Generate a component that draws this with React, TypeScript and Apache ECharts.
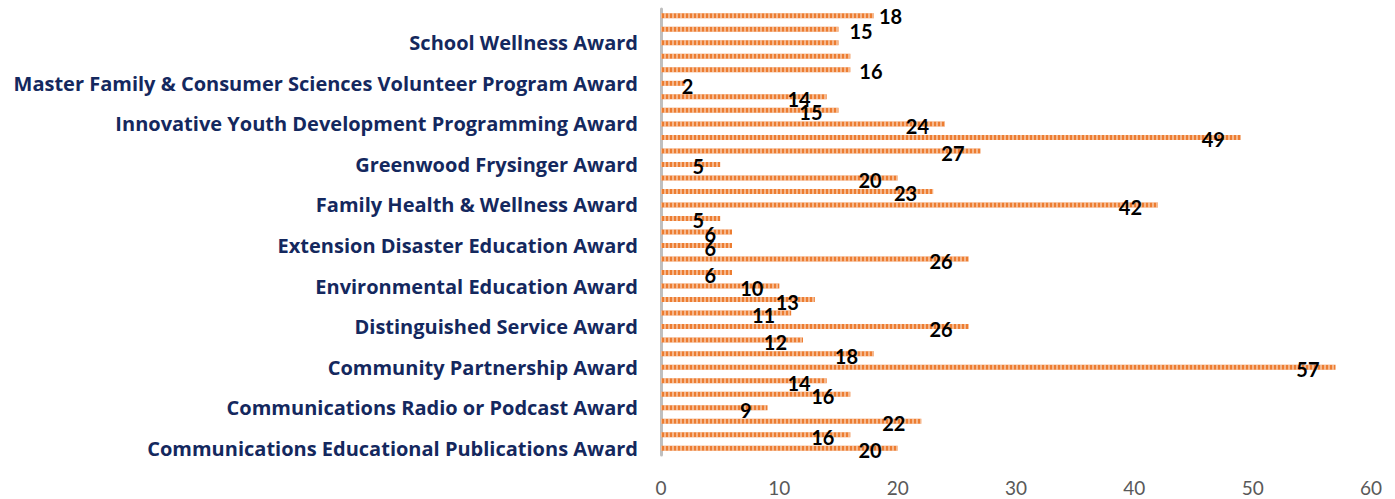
import React, { useEffect, useRef } from "react";
import * as echarts from "echarts";

// Categories from bottom to top (only every third is labelled on the axis)
const categories: string[] = [
  "Communications Educational Publications Award",
  "Communications Educational Technology Award",
  "Communications Newsletter Award",
  "Communications Radio or Podcast Award",
  "Communications Video Award",
  "Communications Website Award",
  "Community Partnership Award",
  "Continued Excellence Award",
  "Dean Don Felker Financial Management Award",
  "Distinguished Service Award",
  "Early Childhood Childcare Training Award",
  "Educational Curriculum Package Award",
  "Environmental Education Award",
  "Excellence in Teaching Award",
  "Extension Agent Award",
  "Extension Disaster Education Award",
  "Extension Leadership Award",
  "Family Economics Award",
  "Family Health & Wellness Award",
  "Florence Hall Award",
  "Food Safety Award",
  "Greenwood Frysinger Award",
  "Healthy Homes Award",
  "Human Development & Family Relationships Award",
  "Innovative Youth Development Programming Award",
  "Leadership Award",
  "Mary Wells Memorial Diversity Award",
  "Master Family & Consumer Sciences Volunteer Program Award",
  "New Professional Award",
  "Program Excellence through Research Award",
  "School Wellness Award",
  "Sustainability Award",
  "Teaching Excellence Award",
];

const values: number[] = [
  20, 16, 22, 9, 16, 14, 57, 18, 12, 26, 11, 13, 10, 6, 26, 6, 6, 5, 42, 23, 20,
  5, 27, 49, 24, 15, 14, 2, 16, 16, 15, 15, 18,
];

// indices of bars whose value label is not shown
const hiddenLabels: number[] = [29, 30];

const xTicks = { min: 0, max: 60, interval: 10 };

// label placement overrides (style only)
const labelOverrides: Record<number, any> = {
  32: { position: "right", distance: 5, offset: [0, 0] },
  31: { position: "right", distance: 11, offset: [0, 2] },
  28: { position: "right", distance: 9, offset: [0, 1] },
  27: { position: "right", distance: -3, offset: [0, 3] },
};

export default function App() {
  const ref = useRef<HTMLDivElement>(null);
  useEffect(() => {
    if (!ref.current) return;
    const chart = echarts.init(ref.current, null, { renderer: "svg" });
    const data = values.map((v, i) => {
      const item: any = { value: v };
      if (hiddenLabels.includes(i)) item.label = { show: false };
      else if (labelOverrides[i]) item.label = { ...labelOverrides[i] };
      return item;
    });
    chart.setOption({
      animation: false,
      grid: { left: 661, right: 24, top: 9, bottom: 44, containLabel: false },
      xAxis: {
        type: "value",
        min: xTicks.min,
        max: xTicks.max,
        interval: xTicks.interval,
        axisLine: { show: false },
        axisTick: { show: false },
        splitLine: { show: false },
        axisLabel: {
          color: "#595959",
          fontSize: 19,
          fontFamily: "Lato",
          margin: 23,
        },
      },
      yAxis: {
        type: "category",
        data: categories,
        axisTick: { show: false },
        axisLine: { show: true, lineStyle: { color: "#BFBFBF", width: 3 } },
        axisLabel: {
          interval: 2,
          color: "#14285E",
          fontWeight: "bold",
          fontSize: 20,
          fontFamily: "Open Sans",
          margin: 23,
        },
      },
      series: [
        {
          type: "bar",
          data,
          barWidth: 5,
          itemStyle: {
            color: "#ED7D31",
            decal: {
              symbol: "rect",
              symbolSize: 1,
              color: "rgba(255,255,255,0.45)",
              dashArrayX: [1.5, 1.5],
              dashArrayY: [6, 0],
              rotation: 0,
            },
          },
          label: {
            show: true,
            position: "insideRight",
            distance: 16,
            offset: [0, 2],
            color: "#000000",
            fontWeight: "bold",
            fontSize: 20,
            fontFamily: "Lato",
          },
        },
      ],
    });
    return () => chart.dispose();
  }, []);
  return (
    <div
      ref={ref}
      style={{ position: "fixed", left: 0, top: 0, width: 1395, height: 499, background: "#ffffff" }}
    />
  );
}
